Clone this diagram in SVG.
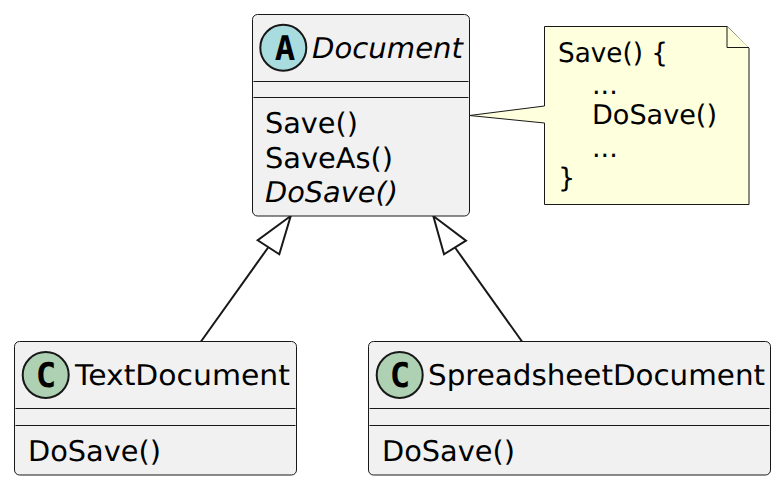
<svg xmlns="http://www.w3.org/2000/svg" width="783" height="488" viewBox="0 0 783 488">
<style>
text{font-family:"DejaVu Sans",sans-serif;font-size:28.5px;fill:#000;text-rendering:geometricPrecision}
.i{font-style:italic}
.n{font-size:27px}
.box{fill:#F1F1F1;stroke:#181818;stroke-width:1}
.sep{stroke:#181818;stroke-width:1}
.circ{stroke:#181818;stroke-width:2}
.sp{font-family:"DejaVu Sans Mono","DejaVu Sans",monospace;font-weight:bold;font-size:34px;text-anchor:middle}
.conn{fill:none;stroke:#181818;stroke-width:2}
.head{fill:#fff;stroke:#181818;stroke-width:2}
.note{fill:#FEFFDD;stroke:#181818;stroke-width:1}
</style>
<g id="connectors">
<path class="conn" d="M201,341.5L268.5,247"/>
<polygon class="head" points="290.7,216 257.7,240.3 279.3,254.3"/>
<path class="conn" d="M522,341.5L455,247.5"/>
<polygon class="head" points="433.3,216 444,254.3 466,240.7"/>
</g>
<g id="Document">
<rect class="box" x="252.5" y="14.5" width="217" height="201.5" rx="5"/>
<circle class="circ" cx="283.3" cy="47.7" r="23" fill="#A9DCDF"/>
<text class="sp" x="285" y="60">A</text>
<text class="i" x="312" y="58" textLength="151" lengthAdjust="spacingAndGlyphs">Document</text>
<path class="sep" d="M253.5,81.5H468.5M253.5,97.5H468.5"/>
<text x="265" y="133" textLength="93" lengthAdjust="spacingAndGlyphs">Save()</text>
<text x="265" y="168" textLength="128" lengthAdjust="spacingAndGlyphs">SaveAs()</text>
<text class="i" x="265" y="202" textLength="133" lengthAdjust="spacingAndGlyphs">DoSave()</text>
</g>
<g id="Note">
<polygon class="note" points="544.5,26.5 544.5,106 469.5,115.5 544.5,123 544.5,204.5 749,204.5 749,48 727,26.5"/>
<path class="note" d="M727,26.5V47.5H749"/>
<text class="n" x="558" y="62" textLength="110" lengthAdjust="spacingAndGlyphs">Save() {</text>
<text class="n" x="592" y="93.5">...</text>
<text class="n" x="592" y="124" textLength="125" lengthAdjust="spacingAndGlyphs">DoSave()</text>
<text class="n" x="592" y="157">...</text>
<text class="n" x="558" y="187">}</text>
</g>
<g id="TextDocument">
<rect class="box" x="14.5" y="341.5" width="282" height="133.5" rx="5"/>
<circle class="circ" cx="45.7" cy="375" r="23" fill="#ADD1B2"/>
<text class="sp" x="46" y="387">C</text>
<text x="75" y="385" textLength="215" lengthAdjust="spacingAndGlyphs">TextDocument</text>
<path class="sep" d="M15.5,408.5H295.5M15.5,425.5H295.5"/>
<text x="28" y="460.5" textLength="133" lengthAdjust="spacingAndGlyphs">DoSave()</text>
</g>
<g id="SpreadsheetDocument">
<rect class="box" x="368.5" y="341.5" width="402" height="133.5" rx="5"/>
<circle class="circ" cx="399.7" cy="375" r="23" fill="#ADD1B2"/>
<text class="sp" x="400" y="387">C</text>
<text x="428" y="385" textLength="337" lengthAdjust="spacingAndGlyphs">SpreadsheetDocument</text>
<path class="sep" d="M369.5,408.5H769.5M369.5,425.5H769.5"/>
<text x="382" y="460.5" textLength="133" lengthAdjust="spacingAndGlyphs">DoSave()</text>
</g>
</svg>
